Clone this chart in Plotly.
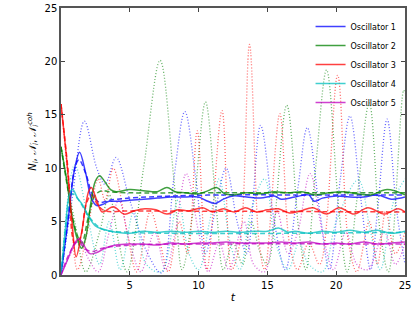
import plotly.graph_objects as go

names = ["Oscillator 1", "Oscillator 2", "Oscillator 3", "Oscillator 4", "Oscillator 5"]
colors = ["rgba(0,0,255,0.75)", "rgba(0,128,0,0.75)", "rgba(255,0,0,0.75)",
          "rgba(0,191,191,0.75)", "rgba(191,0,191,0.75)"]
dot_colors = ["rgba(0,0,255,0.6)", "rgba(0,128,0,0.6)", "rgba(255,0,0,0.6)",
              "rgba(0,191,191,0.6)", "rgba(191,0,191,0.6)"]

# ---- N_i (solid) ----
n1_t = [0, 0.5, 1.0, 1.35, 1.8, 2.2, 2.6, 3.0, 3.5, 4.0, 5, 6, 7, 8, 9, 10, 10.5, 11.2, 11.8, 12.5, 13.5, 14.5, 15.5, 16, 17, 18, 18.4, 19, 20, 21, 22, 23, 24, 25]
n1_v = [0, 5.0, 10.0, 11.5, 9.5, 7.2, 6.5, 6.6, 6.9, 6.9, 7.0, 7.1, 7.2, 7.3, 7.3, 7.3, 7.0, 6.7, 7.1, 7.4, 7.3, 7.2, 7.4, 7.1, 7.3, 7.5, 6.9, 7.2, 7.4, 7.3, 7.3, 7.5, 7.1, 7.3]
n2_t = [0, 0.4, 0.8, 1.2, 1.5, 1.8, 2.2, 2.5, 2.8, 3.2, 3.6, 4.0, 5, 6, 7, 7.7, 8.3, 9, 10, 10.7, 11.3, 11.9, 12.5, 13.5, 14.5, 15.5, 16.5, 17.5, 18.5, 19.5, 20.5, 21.5, 22.5, 23.7, 25]
n2_v = [12, 9.0, 5.5, 3.3, 2.5, 3.5, 7.0, 8.8, 9.3, 8.7, 8.0, 7.8, 8.0, 7.9, 7.8, 8.2, 7.8, 7.7, 7.6, 7.9, 8.2, 7.6, 7.5, 7.7, 7.6, 7.8, 7.7, 7.8, 7.5, 7.7, 7.8, 7.6, 7.5, 8.0, 7.5]
n3_t = [0, 0.4, 0.8, 1.1, 1.5, 2.0, 2.2, 2.6, 3.0, 3.8, 4.6, 5.3, 6.1, 6.9, 7.7, 8.5, 9.3, 10.3, 11.0, 11.8, 12.6, 13.4, 14.2, 15.0, 15.8, 16.6, 17.4, 18.3, 19.3, 20.2, 21.3, 22.3, 23.5, 24.5, 25]
n3_v = [16, 11.0, 5.0, 1.7, 4.0, 7.8, 8.2, 7.0, 5.9, 6.4, 5.7, 6.0, 6.2, 6.1, 5.7, 6.1, 6.0, 6.3, 5.9, 6.2, 5.9, 6.3, 5.9, 6.1, 6.2, 5.8, 6.0, 6.3, 5.7, 6.3, 5.7, 6.3, 5.7, 6.2, 5.9]
n4_t = [0, 0.3, 0.6, 0.85, 1.2, 1.6, 2.0, 2.5, 3.0, 4, 5, 6, 7, 8, 9, 10, 11, 12, 13, 14, 15, 15.8, 16.5, 17, 18, 19, 20, 21, 22, 23, 24, 25]
n4_v = [0, 4.0, 7.5, 8.0, 7.2, 6.5, 5.5, 4.6, 4.3, 4.0, 3.9, 4.1, 4.0, 4.1, 4.0, 4.1, 4.0, 4.1, 4.0, 4.1, 4.1, 4.4, 4.0, 4.1, 3.9, 4.1, 4.0, 4.2, 4.0, 4.2, 3.9, 4.1]
n5_t = [0, 0.5, 1.0, 1.3, 1.7, 2.1, 2.6, 3.2, 4, 5, 6, 7, 8, 9, 10, 11, 12, 13, 14, 15, 16, 17, 18, 19, 20, 21, 22, 23, 24, 25]
n5_v = [0, 1.5, 3.0, 3.4, 2.7, 2.0, 2.1, 2.5, 2.8, 2.9, 2.9, 2.8, 3.0, 2.9, 3.0, 3.0, 3.1, 3.0, 3.0, 3.0, 3.1, 3.0, 3.1, 2.9, 3.0, 2.9, 3.1, 2.9, 3.0, 3.1]

# ---- approximate (dashed) ----
a1_t = [0, 0.5, 1.0, 1.3, 1.8, 2.3, 2.8, 3.5, 5, 8, 12, 16, 20, 25]
a1_v = [0, 5.0, 10.0, 10.8, 9.5, 7.5, 6.8, 7.0, 7.2, 7.4, 7.5, 7.5, 7.5, 7.5]
a2_t = [0, 0.5, 1.0, 1.5, 2.0, 2.5, 3.0, 3.5, 5, 10, 25]
a2_v = [12, 8.0, 4.5, 3.0, 5.5, 7.5, 7.9, 7.8, 7.7, 7.7, 7.7]
a3_t = [0, 0.5, 1.0, 1.4, 1.8, 2.2, 2.7, 3.2, 5, 25]
a3_v = [16, 10.0, 3.0, 3.5, 6.5, 7.5, 6.5, 6.0, 6.0, 5.9]
a4_t = [0, 0.4, 0.8, 1.3, 2.0, 3.0, 5, 25]
a4_v = [0, 5.0, 7.6, 7.0, 5.5, 4.3, 4.0, 4.0]
a5_t = [0, 0.6, 1.2, 1.8, 2.3, 3.0, 5, 10, 25]
a5_v = [0, 2.0, 3.1, 2.4, 2.2, 2.5, 2.8, 2.9, 2.9]

# ---- coherent (dotted) ----
c1_t = [0, 0.8, 1.7, 2.6, 3.2, 4.0, 5.0, 6.3, 7.3, 8.2, 9.0, 9.8, 10.5, 11.2, 12.0, 12.8, 13.5, 14.5, 15.5, 16.3, 17.2, 17.9, 18.8, 19.5, 20.3, 21.0, 21.8, 22.5, 23.0, 23.7, 24.4, 25]
c1_v = [0, 7.0, 14.4, 10.0, 8.5, 11.0, 7.0, 2.0, 0.2, 9.0, 15.3, 9.0, 2.0, 6.0, 10.0, 5.0, 2.0, 14.0, 5.0, 0.5, 8.0, 13.8, 6.0, 0.5, 9.0, 14.9, 7.0, 0.5, 6.0, 14.6, 6.0, 1.0]
c2_t = [0, 1.0, 1.8, 2.8, 3.5, 4.2, 4.8, 6.0, 7.2, 8.2, 8.8, 9.6, 10.5, 11.3, 11.8, 12.5, 13.2, 13.8, 14.5, 15.0, 16.4, 17.3, 17.8, 18.5, 19.3, 20.2, 20.8, 21.5, 22.4, 23.2, 23.8, 24.9, 25]
c2_v = [12, 5.0, 0.3, 4.0, 7.5, 3.0, 0.3, 10.0, 20.1, 9.0, 0.5, 6.0, 16.2, 6.0, 0.5, 3.0, 1.0, 5.0, 2.0, 1.0, 15.9, 4.0, 0.5, 10.0, 19.2, 6.0, 0.3, 7.0, 16.1, 4.0, 0.3, 17.3, 17.0]
c3_t = [0, 0.6, 1.2, 1.9, 2.7, 3.2, 3.8, 4.8, 5.5, 6.5, 7.2, 7.8, 8.6, 9.2, 9.9, 10.6, 11.7, 12.4, 13.0, 13.7, 14.4, 14.8, 15.9, 16.6, 17.2, 18.0, 18.8, 20.1, 20.9, 21.5, 22.4, 23.0, 23.6, 24.3, 25]
c3_v = [16, 8.0, 0.5, 4.0, 9.0, 7.0, 10.0, 4.0, 0.3, 6.0, 3.0, 0.3, 5.0, 2.0, 13.5, 0.5, 15.4, 0.5, 3.0, 21.6, 3.0, 0.5, 15.1, 3.0, 0.5, 3.0, 1.0, 18.7, 3.0, 0.3, 5.0, 1.0, 6.0, 2.0, 4.0]
c4_t = [0, 1.0, 2.0, 2.8, 3.5, 4.3, 5.3, 6.2, 7.3, 8.5, 9.3, 10.0, 10.8, 11.5, 12.3, 13.0, 13.8, 14.8, 15.6, 16.5, 17.3, 18.0, 19.0, 20.0, 21.6, 22.5, 23.2, 24.2, 25]
c4_v = [0, 10.3, 5.0, 1.0, 5.0, 0.5, 6.0, 1.0, 0.3, 7.0, 2.0, 0.5, 5.0, 9.0, 3.0, 0.5, 6.0, 9.0, 3.0, 0.5, 3.0, 1.0, 0.3, 5.0, 8.9, 4.0, 0.5, 7.0, 9.0]
c5_t = [0, 0.7, 1.3, 2.0, 2.7, 3.5, 4.2, 5.0, 5.8, 6.8, 7.6, 8.3, 9.1, 10.0, 10.7, 11.5, 12.2, 13.3, 14.0, 14.8, 15.7, 16.5, 17.2, 18.1, 19.0, 19.8, 20.7, 21.5, 22.3, 23.5, 24.3, 25]
c5_v = [0, 2.0, 3.3, 1.5, 0.3, 4.0, 7.0, 3.0, 0.3, 4.0, 0.5, 4.0, 9.5, 4.0, 0.3, 3.0, 0.5, 5.0, 1.0, 0.3, 6.0, 2.0, 4.0, 9.5, 4.0, 0.5, 4.0, 1.0, 0.5, 4.0, 1.0, 3.0]

solid = [(n1_t, n1_v), (n2_t, n2_v), (n3_t, n3_v), (n4_t, n4_v), (n5_t, n5_v)]
dashed = [(a1_t, a1_v), (a2_t, a2_v), (a3_t, a3_v), (a4_t, a4_v), (a5_t, a5_v)]
dotted = [(c1_t, c1_v), (c2_t, c2_v), (c3_t, c3_v), (c4_t, c4_v), (c5_t, c5_v)]

x_ticks = [5, 10, 15, 20, 25]
y_ticks = [0, 5, 10, 15, 20, 25]

fig = go.Figure()
for i in range(5):
    t, v = dotted[i]
    fig.add_trace(go.Scatter(x=t, y=v, mode="lines", showlegend=False,
                             line=dict(color=dot_colors[i], width=1.3, dash="1px,2px", shape="spline", smoothing=1.0)))
for i in range(5):
    t, v = dashed[i]
    fig.add_trace(go.Scatter(x=t, y=v, mode="lines", showlegend=False,
                             line=dict(color=colors[i], width=1.5, dash="5px,3px", shape="spline", smoothing=1.0)))
for i in range(5):
    t, v = solid[i]
    fig.add_trace(go.Scatter(x=t, y=v, mode="lines", name=names[i],
                             line=dict(color=colors[i], width=1.5, shape="spline", smoothing=1.0)))

fig.update_layout(
    width=415, height=314,
    margin=dict(l=61, r=10, t=8, b=39, autoexpand=False),
    paper_bgcolor="white", plot_bgcolor="white",
    font=dict(family="DejaVu Sans", size=10, color="black"),
    showlegend=True,
    legend=dict(x=0.99, y=0.985, xanchor="right", yanchor="top",
                bgcolor="rgba(0,0,0,0)", borderwidth=0,
                font=dict(size=8), tracegroupgap=0, itemwidth=30),
    xaxis=dict(range=[0, 25], tickvals=x_ticks, ticks="inside", ticklen=4,
               showgrid=False, zeroline=False, showline=True, linecolor="#555", linewidth=1.5,
               mirror="ticks", tickfont=dict(size=10), automargin=False,
               title=dict(text="<i>t</i>", font=dict(size=11), standoff=4)),
    yaxis=dict(range=[0, 25], tickvals=y_ticks, ticks="inside", ticklen=4,
               showgrid=False, zeroline=False, showline=True, linecolor="#555", linewidth=1.5,
               mirror="ticks", tickfont=dict(size=10), automargin=False,
               title=dict(text="<i>N<sub>i</sub></i>, <i>𝒩<sub>i</sub></i>, <i>𝒩<sub>i</sub><sup>coh</sup></i>",
                          font=dict(size=10), standoff=6)),
)

fig.write_html("out.html", config={"displayModeBar": False},
               post_script="document.body.style.margin='0';")
